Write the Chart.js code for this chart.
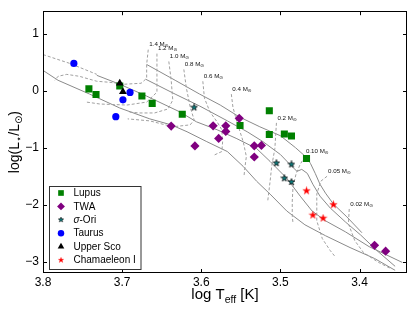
<!DOCTYPE html>
<html><head><meta charset="utf-8">
<script src="https://cdn.jsdelivr.net/npm/chart.js@4/dist/chart.umd.min.js"></script>
<style>html,body{margin:0;padding:0;background:#fff}#wrap{width:415px;height:312px;position:relative}</style>
</head><body><div id="wrap"><canvas id="c"></canvas></div>
<script>
// ---- axis ticks / limits ----
const xTicks = [3.8, 3.7, 3.6, 3.5, 3.4];
const yTicks = [1, 0, -1, -2, -3];
const xLimits = [3.34, 3.8];
const yLimits = [-3.2, 1.4];

// ---- observed objects (log Teff, log L/Lsun) ----
const lupusT = [3.742, 3.733, 3.703, 3.675, 3.662, 3.624, 3.551, 3.514, 3.514, 3.495, 3.486, 3.467];
const lupusL = [0.035, -0.063, 0.087, -0.089, -0.219, -0.41, -0.609, -0.348, -0.765, -0.758, -0.793, -1.188];
const twaT = [3.638, 3.608, 3.585, 3.569, 3.569, 3.578, 3.552, 3.533, 3.524, 3.533, 3.381, 3.367];
const twaL = [-0.619, -0.967, -0.614, -0.614, -0.713, -0.835, -0.483, -0.965, -0.958, -1.162, -2.713, -2.817];
const sigOriT = [3.609, 3.505, 3.486, 3.495, 3.486];
const sigOriL = [-0.292, -1.27, -1.292, -1.536, -1.6];
const taurusT = [3.761, 3.690, 3.699, 3.708];
const taurusL = [0.482, -0.028, -0.157, -0.454];
const upperScoT = [3.703, 3.699];
const upperScoL = [0.134, -0.014];
const chaT = [3.467, 3.433, 3.459, 3.446];
const chaL = [-1.757, -2.0, -2.184, -2.237];

// ---- isochrones (solid) ----
const iso1 = [[3.669,0.464],[3.633,0.186],[3.602,-0.057],[3.576,-0.249],[3.552,-0.457],[3.526,-0.631],[3.500,-0.788],[3.481,-0.997],[3.467,-1.17],[3.462,-1.275],[3.456,-1.449],[3.450,-1.64],[3.443,-1.797],[3.433,-1.988],[3.416,-2.214],[3.397,-2.492]];
const iso2 = [[3.670,0.203],[3.633,-0.057],[3.602,-0.266],[3.567,-0.527],[3.542,-0.718],[3.522,-0.892],[3.500,-1.118],[3.488,-1.292],[3.479,-1.414],[3.473,-1.379],[3.466,-1.449],[3.459,-1.64],[3.450,-1.849],[3.437,-2.058],[3.418,-2.301],[3.399,-2.527],[3.378,-2.806],[3.355,-3.083]];
const iso3 = [[3.732,0.273],[3.703,0.117],[3.669,-0.092],[3.627,-0.37],[3.606,-0.544],[3.580,-0.683],[3.555,-0.84],[3.530,-1.014],[3.513,-1.24],[3.492,-1.535],[3.475,-1.849],[3.460,-2.11],[3.443,-2.283],[3.418,-2.475],[3.388,-2.736],[3.346,-3.014]];
const iso4 = [[3.800,0.36],[3.781,0.186],[3.741,-0.057],[3.703,-0.301],[3.665,-0.492],[3.638,-0.597],[3.618,-0.718],[3.593,-0.892],[3.567,-1.066],[3.547,-1.327],[3.530,-1.588],[3.513,-1.814],[3.492,-2.11],[3.469,-2.353],[3.443,-2.545],[3.412,-2.753],[3.381,-2.945],[3.355,-3.153]];

// ---- evolutionary tracks (dashed) ----
const trackMasses = ['1.4', '1.2', '1.0', '0.8', '0.6', '0.4', '0.2', '0.10', '0.05', '0.02'];
const track14 = [[3.667,0.725],[3.669,0.464],[3.669,0.221],[3.676,0.134],[3.697,0.117],[3.716,0.151],[3.732,0.169],[3.754,0.256],[3.770,0.29],[3.781,0.256],[3.785,0.186]];
const track12 = [[3.656,0.655],[3.656,0.325],[3.656,-0.023],[3.669,-0.197],[3.694,-0.249],[3.728,-0.231],[3.745,-0.197]];
const track10 = [[3.641,0.517],[3.638,0.186],[3.636,-0.162],[3.642,-0.318],[3.659,-0.388],[3.678,-0.388],[3.693,-0.37]];
const track08 = [[3.622,0.377],[3.619,0.064],[3.614,-0.283],[3.609,-0.51],[3.614,-0.597],[3.636,-0.631],[3.665,-0.527],[3.693,-0.492]];
const track06 = [[3.598,0.169],[3.596,-0.127],[3.589,-0.37],[3.580,-0.544],[3.574,-0.683],[3.573,-0.892],[3.574,-1.066],[3.585,-1.136]];
const track04 = [[3.562,-0.057],[3.560,-0.283],[3.555,-0.544],[3.547,-0.892],[3.543,-1.153],[3.545,-1.362],[3.546,-1.5]];
const track02 = [[3.505,-0.562],[3.507,-1.014],[3.511,-1.327],[3.513,-1.588],[3.516,-1.936]];
const track010 = [[3.469,-1.153],[3.475,-1.292],[3.480,-1.449],[3.484,-1.675],[3.485,-1.936],[3.485,-2.197],[3.484,-2.336]];
const track005 = [[3.441,-1.5],[3.449,-1.588],[3.454,-1.814],[3.454,-2.283],[3.447,-2.597],[3.437,-2.806],[3.431,-2.91]];
const track002 = [[3.413,-2.075],[3.414,-2.336],[3.406,-2.631],[3.395,-2.84],[3.376,-3.014],[3.361,-3.118]];
const trackUpperLeft = [[3.800,0.638],[3.766,0.482],[3.732,0.29]];

const tracks = [track14, track12, track10, track08, track06, track04, track02, track010, track005, track002];
const isochrones = [iso1, iso2, iso3, iso4];

const FONT = "'Liberation Sans', Arial, 'DejaVu Sans', sans-serif";

function makeStar(size, fill, stroke, lw) {
  const c = document.createElement('canvas');
  c.width = size; c.height = size;
  const g = c.getContext('2d');
  const cx = size / 2, R = size / 2 - 0.5, r = R * 0.4;
  g.beginPath();
  for (let i = 0; i < 10; i++) {
    const a = -Math.PI / 2 + i * Math.PI / 5;
    const rr = i % 2 ? r : R;
    g.lineTo(cx + rr * Math.cos(a), cx + rr * Math.sin(a));
  }
  g.closePath();
  g.fillStyle = fill; g.fill();
  if (stroke) { g.strokeStyle = stroke; g.lineWidth = lw; g.stroke(); }
  return c;
}
const starTeal = makeStar(8, '#0a7f80', '#000', 0.7);
const starRed = makeStar(9, '#ff0000', '#ff0000', 0.3);

const pts = (xs, ys) => xs.map((v, i) => ({x: v, y: ys[i]}));
const pairs = arr => arr.map(p => ({x: p[0], y: p[1]}));

const datasets = [];
isochrones.forEach(l => datasets.push({data: pairs(l), showLine: true, borderColor: '#8a8a8a', borderWidth: 1, pointRadius: 0, pointHoverRadius: 0, order: 100, isLine: true}));
tracks.concat([trackUpperLeft]).forEach(l => datasets.push({data: pairs(l), showLine: true, borderColor: '#a0a0a0', borderWidth: 1, borderDash: [3, 2], pointRadius: 0, pointHoverRadius: 0, order: 99, isLine: true}));

const series = [
  {label: 'Lupus', data: pts(lupusT, lupusL), pointStyle: 'rect', pointRadius: 5, backgroundColor: '#008000', borderColor: '#008000', legendScale: 0.8},
  {label: 'TWA', data: pts(twaT, twaL), pointStyle: 'rectRot', pointRadius: 4.6, backgroundColor: '#800080', borderColor: '#800080', legendScale: 0.85},
  {label: 'σ-Ori', data: pts(sigOriT, sigOriL), pointStyle: starTeal, pointRadius: 4, backgroundColor: '#0a7f80', borderColor: '#000', legendScale: 0.8},
  {label: 'Taurus', data: pts(taurusT, taurusL), pointStyle: 'circle', pointRadius: 3.6, backgroundColor: '#0000ff', borderColor: '#0000ff', legendScale: 0.9},
  {label: 'Upper Sco', data: pts(upperScoT, upperScoL), pointStyle: 'triangle', pointRadius: 4.5, backgroundColor: '#000000', borderColor: '#000000', legendScale: 0.85},
  {label: 'Chamaeleon I', data: pts(chaT, chaL), pointStyle: starRed, pointRadius: 4, backgroundColor: '#ff0000', borderColor: '#ff0000', legendScale: 0.75}
];
series.forEach((s, i) => { s.borderWidth = 0; s.order = 10 - i; s.inLegend = true; datasets.push(s); });

function drawRich(ctx, parts, x, y, align) {
  let total = 0;
  parts.forEach(p => { ctx.font = (p.italic ? 'italic ' : '') + p.size + 'px ' + FONT; p.w = ctx.measureText(p.t).width; total += p.w; });
  let cx = align === 'center' ? x - total / 2 : x;
  parts.forEach(p => {
    ctx.font = (p.italic ? 'italic ' : '') + p.size + 'px ' + FONT;
    ctx.fillText(p.t, cx, y + (p.dy || 0));
    cx += p.w;
  });
}

function drawMarker(ctx, ds, x, y) {
  const st = ds.pointStyle, s = ds.legendScale || 1;
  ctx.fillStyle = ds.backgroundColor;
  if (st instanceof HTMLCanvasElement) {
    const w = st.width * s;
    ctx.drawImage(st, x - w / 2, y - w / 2, w, w);
    return;
  }
  const r = ds.pointRadius * s;
  ctx.beginPath();
  if (st === 'rect') { const h = r * Math.SQRT1_2; ctx.rect(x - h, y - h, 2 * h, 2 * h); }
  else if (st === 'rectRot') { ctx.moveTo(x - r, y); ctx.lineTo(x, y - r); ctx.lineTo(x + r, y); ctx.lineTo(x, y + r); ctx.closePath(); }
  else if (st === 'triangle') { for (let i = 0; i < 3; i++) { const a = -Math.PI / 2 + i * 2 * Math.PI / 3; ctx.lineTo(x + r * Math.cos(a), y + r * Math.sin(a)); } ctx.closePath(); }
  else ctx.arc(x, y, r, 0, Math.PI * 2);
  ctx.fill();
}

const decor = {
  id: 'decor',
  afterDraw(chart) {
    const ctx = chart.ctx, a = chart.chartArea, xs = chart.scales.x, ys = chart.scales.y;
    ctx.save();
    // mass labels at the top of each track
    ctx.fillStyle = '#111';
    ctx.textBaseline = 'middle';
    tracks.forEach((t, i) => {
      const px = xs.getPixelForValue(t[0][0]) + 1, py = ys.getPixelForValue(t[0][1]) - 5;
      drawRich(ctx, [{t: trackMasses[i] + ' M', size: 6.2}, {t: '⊙', size: 4.5, dy: 1.5}], px, py, 'left');
    });
    // frame
    ctx.strokeStyle = '#000'; ctx.lineWidth = 1;
    ctx.strokeRect(Math.round(a.left) + 0.5, Math.round(a.top) + 0.5, Math.round(a.right - a.left) - 1, Math.round(a.bottom - a.top) - 1);
    // inward ticks on all sides
    ctx.beginPath();
    xTicks.forEach(v => { const p = Math.round(xs.getPixelForValue(v)) + 0.5; ctx.moveTo(p, a.bottom); ctx.lineTo(p, a.bottom - 4); ctx.moveTo(p, a.top); ctx.lineTo(p, a.top + 4); });
    yTicks.forEach(v => { const p = Math.round(ys.getPixelForValue(v)) + 0.5; ctx.moveTo(a.left, p); ctx.lineTo(a.left + 4, p); ctx.moveTo(a.right, p); ctx.lineTo(a.right - 4, p); });
    ctx.stroke();
    // axis titles
    ctx.fillStyle = '#000';
    ctx.textBaseline = 'alphabetic';
    drawRich(ctx, [{t: 'log T', size: 15}, {t: 'eff', size: 10.5, dy: 3.5}, {t: ' [K]', size: 15}], (a.left + a.right) / 2, 299, 'center');
    ctx.save();
    ctx.translate(19, (a.top + a.bottom) / 2);
    ctx.rotate(-Math.PI / 2);
    drawRich(ctx, [{t: 'log(L', size: 14}, {t: '⋆', size: 10, dy: 3}, {t: '/L', size: 14}, {t: '⊙', size: 10, dy: 3}, {t: ')', size: 14}], 0, 0, 'center');
    ctx.restore();
    // legend box
    const items = chart.data.datasets.filter(d => d.inLegend);
    const bx = a.left + 5.5, bw = 91.5, bh = 83, by = a.bottom - 4 - bh;
    ctx.fillStyle = '#fff'; ctx.strokeStyle = '#333';
    ctx.fillRect(Math.round(bx) + 0.5, Math.round(by) + 0.5, bw, bh);
    ctx.strokeRect(Math.round(bx) + 0.5, Math.round(by) + 0.5, bw, bh);
    ctx.textBaseline = 'middle';
    items.forEach((d, i) => {
      const cy = by + 7 + i * 13.4;
      drawMarker(ctx, d, bx + 12.5, cy);
      ctx.fillStyle = '#000';
      if (d.label.startsWith('σ')) drawRich(ctx, [{t: 'σ', size: 10, italic: true}, {t: d.label.slice(1), size: 10}], bx + 25, cy + 0.5, 'left');
      else { ctx.font = '10px ' + FONT; ctx.fillText(d.label, bx + 25, cy + 0.5); }
    });
    ctx.restore();
  }
};

new Chart(document.getElementById('c'), {
  type: 'scatter',
  data: {datasets},
  options: {
    responsive: true, maintainAspectRatio: false, animation: false,
    layout: {padding: {top: 8, right: 8, left: 0, bottom: 0}},
    plugins: {legend: {display: false}, tooltip: {enabled: false}},
    elements: {line: {tension: 0, fill: false}},
    scales: {
      x: {
        type: 'linear', reverse: true, min: xLimits[0], max: xLimits[1],
        grid: {display: false, drawTicks: false}, border: {display: false},
        afterBuildTicks: s => { s.ticks = xTicks.map(v => ({value: v})); },
        afterFit: s => { s.height = 39; },
        ticks: {color: '#000', font: {size: 12, family: FONT}, padding: 2, maxRotation: 0, callback: v => v.toFixed(1)}
      },
      y: {
        type: 'linear', min: yLimits[0], max: yLimits[1],
        grid: {display: false, drawTicks: false}, border: {display: false},
        afterBuildTicks: s => { s.ticks = yTicks.map(v => ({value: v})); },
        afterFit: s => { s.width = 43; },
        ticks: {color: '#000', font: {size: 12, family: FONT}, padding: 4, callback: v => String(v).replace('-', '\u2212')}
      }
    }
  },
  plugins: [decor]
});
</script></body></html>
